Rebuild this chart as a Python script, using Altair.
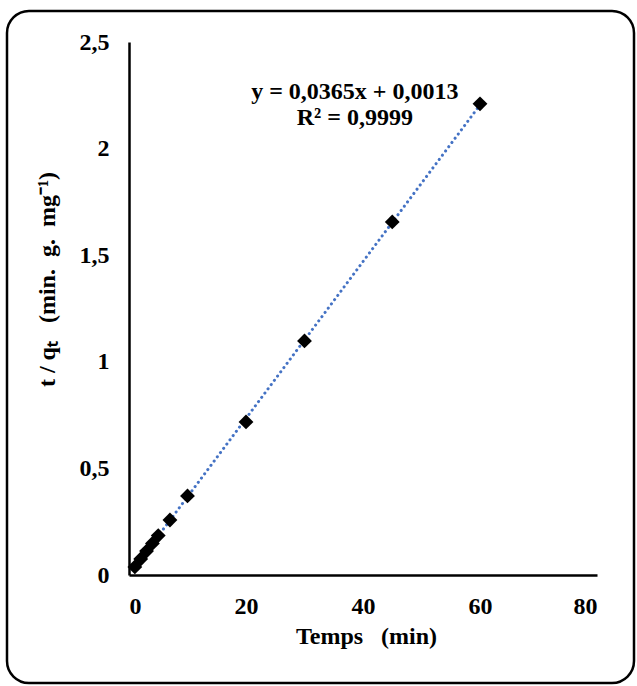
import altair as alt
import pandas as pd

# data
temps = [1, 2, 3, 4, 5, 7, 10, 20, 30, 45, 60]
t_qt = [0.038, 0.075, 0.112, 0.148, 0.185, 0.258, 0.371, 0.718, 1.098, 1.656, 2.21]
x_ticks = [0, 20, 40, 60, 80]
y_ticks = [0, 0.5, 1, 1.5, 2, 2.5]
eq_lines = ["y = 0,0365x + 0,0013", "R² = 0,9999"]
eq_x = [38.6, 38.6]
eq_y = [2.265, 2.143]

df = pd.DataFrame({"x": temps, "y": t_qt})
eq = pd.DataFrame({"x": eq_x, "y": eq_y, "t": eq_lines})

FONT = "Liberation Serif"
NB = "\u00a0"
FS = 24

xs = alt.Scale(domain=[0, 80], nice=False)
ys = alt.Scale(domain=[0, 2.5], nice=False)

xax = alt.Axis(values=x_ticks, title="Temps" + NB * 3 + "(min)", grid=False, ticks=False,
               domainColor="black", domainWidth=2.5, labelPadding=19,
               labelFont=FONT, labelFontSize=FS, labelFontWeight="bold", labelColor="black",
               titleFont=FONT, titleFontSize=FS, titleFontWeight="bold", titleColor="black",
               titleX=237, titleY=61, titleBaseline="middle")
yax = alt.Axis(values=y_ticks,
               title="t / qₜ" + NB * 3 + "(min." + NB * 2 + "g." + NB * 2 + "mg⁻¹)",
               grid=False, ticks=False,
               domainColor="black", domainWidth=2.5, labelPadding=20,
               labelExpr="replace(toString(datum.value), '.', ',')",
               labelFont=FONT, labelFontSize=FS, labelFontWeight="bold", labelColor="black",
               titleFont=FONT, titleFontSize=FS, titleFontWeight="bold", titleColor="black",
               titleX=-82, titleY=237, titleAngle=270, titleAlign="center", titleBaseline="middle")

trend = alt.Chart(df).transform_regression("x", "y").mark_line(
    color="#4472C4", strokeWidth=3, strokeDash=[0.1, 5.2], strokeCap="round"
).encode(x=alt.X("x:Q", scale=xs, axis=xax), y=alt.Y("y:Q", scale=ys, axis=yax))

pts = alt.Chart(df).mark_point(shape="diamond", filled=True, color="black", size=220, opacity=1).encode(
    x=alt.X("x:Q", scale=xs), y=alt.Y("y:Q", scale=ys))

txt = alt.Chart(eq).mark_text(font=FONT, fontSize=FS, fontWeight="bold", color="black").encode(
    x=alt.X("x:Q", scale=xs), y=alt.Y("y:Q", scale=ys), text="t:N")

border = alt.Chart(pd.DataFrame({"a": [0]})).mark_rect(
    filled=False, stroke="black", strokeWidth=2.5, cornerRadius=22
).encode(x=alt.value(-122), x2=alt.value(505), y=alt.value(-31), y2=alt.value(641))

chart = alt.layer(border, trend, pts, txt).properties(
    width=468, height=533, autosize="none",
    padding={"left": 129, "top": 42, "right": 40, "bottom": 111},
    background="white",
).configure_view(stroke=None)

chart.save("out.html", embed_options={"renderer": "svg", "actions": False})
